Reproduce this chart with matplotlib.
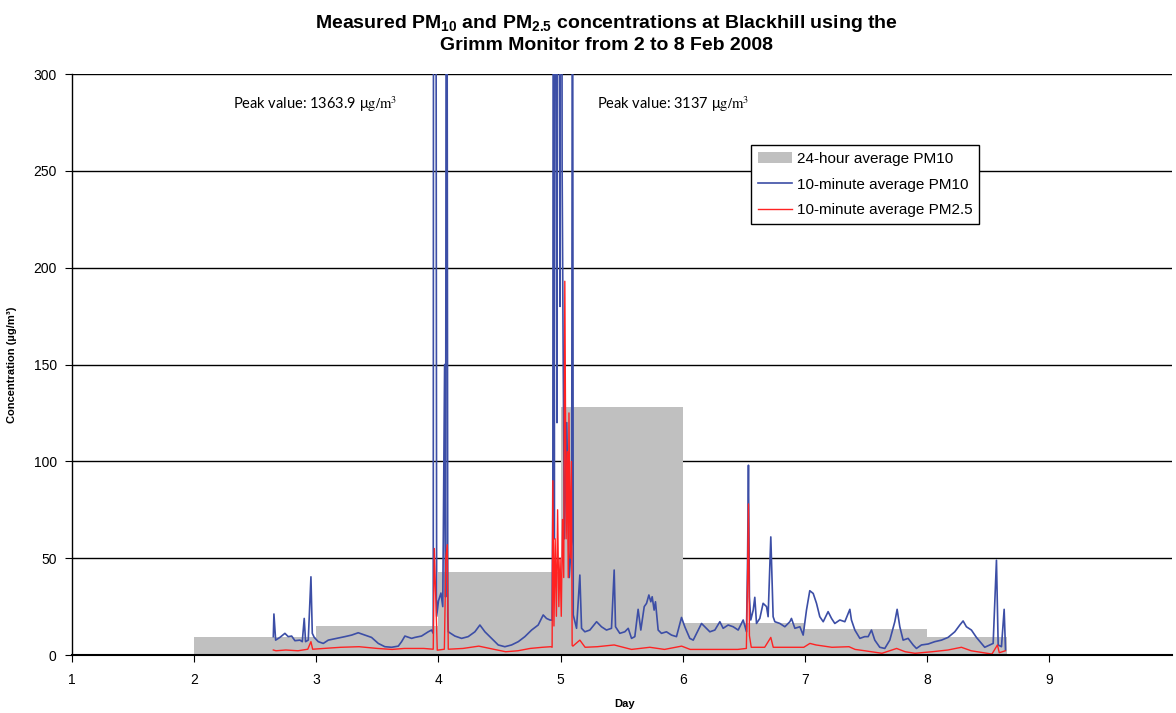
import numpy as np
import matplotlib
matplotlib.use("Agg")
import matplotlib.pyplot as plt
from matplotlib.patches import Patch
from matplotlib.lines import Line2D

plt.rcParams['font.family'] = ['Liberation Sans', 'DejaVu Sans']
plt.rcParams['mathtext.default'] = 'regular'

# 24-hour average PM10 (one value per day)
day_start = [2, 3, 4, 5, 6, 7, 8]
day_end = [3, 4, 5, 6, 7, 8, 8.65]
pm10_24h = [9.5, 15.0, 43.0, 128.0, 16.7, 13.4, 9.3]

# 10-minute average PM10
pm10_day = [2.648, 2.653, 2.667, 2.702, 2.743, 2.770, 2.798, 2.825, 2.866, 2.885,
            2.901, 2.912, 2.934, 2.956, 2.967, 2.983, 3.016, 3.057, 3.098, 3.152,
            3.234, 3.289, 3.343, 3.398, 3.452, 3.507, 3.561, 3.616, 3.671, 3.698,
            3.725, 3.780, 3.807, 3.861, 3.916, 3.943, 3.957,
            3.965, 3.985, 4.000, 4.020, 4.035, 4.050, 4.058, 4.066, 4.076,
            4.080, 4.134, 4.189, 4.243, 4.298, 4.339, 4.380, 4.434, 4.489, 4.543,
            4.598, 4.653, 4.707, 4.762, 4.816, 4.857, 4.884, 4.912, 4.930,
            4.936, 4.942, 4.948, 4.955, 4.962, 4.970, 4.978, 4.985, 4.995, 5.003,
            5.012, 5.020, 5.030, 5.050, 5.070, 5.090, 5.097,
            5.103, 5.130, 5.157, 5.171, 5.198, 5.239, 5.294, 5.334, 5.375, 5.416,
            5.438, 5.449, 5.484, 5.525, 5.553, 5.580, 5.607, 5.634, 5.656, 5.684,
            5.703, 5.722, 5.738, 5.749, 5.765, 5.776, 5.798, 5.825, 5.866, 5.907,
            5.948, 5.989, 6.016, 6.057, 6.085, 6.126, 6.153, 6.180, 6.221, 6.262,
            6.303, 6.330, 6.371, 6.412, 6.453, 6.494, 6.521, 6.530, 6.537, 6.545,
            6.556, 6.576, 6.589, 6.603, 6.630, 6.657, 6.685, 6.698, 6.720, 6.739,
            6.753, 6.794, 6.835, 6.876, 6.889, 6.917, 6.958, 6.985, 7.012, 7.039,
            7.067, 7.094, 7.121, 7.149, 7.189, 7.217, 7.244, 7.285, 7.326, 7.367,
            7.380, 7.408, 7.449, 7.489, 7.517, 7.544, 7.571, 7.612, 7.653, 7.694,
            7.735, 7.754, 7.776, 7.803, 7.844, 7.885, 7.912, 7.953, 8.008, 8.062,
            8.117, 8.171, 8.226, 8.267, 8.294, 8.321, 8.362, 8.403, 8.444, 8.471,
            8.512, 8.540, 8.567, 8.581, 8.608, 8.630, 8.641]
pm10_10min = [9.5, 21.2, 7.7, 9.1, 11.2, 9.5, 9.8, 7.4, 7.7, 6.9,
              18.9, 6.9, 7.7, 40.4, 11.2, 9.1, 6.9, 6.0, 7.7, 8.4,
              9.5, 10.3, 11.5, 10.3, 9.1, 6.0, 4.3, 4.0, 4.6, 6.9,
              9.8, 8.6, 9.1, 9.8, 12.0, 12.9, 11.2,
              1363.9, 20.0, 28.0, 32.0, 25.0, 150.0, 30.0, 600.0, 20.0,
              12.0, 9.8, 8.6, 9.5, 12.0, 15.5, 12.0, 8.6, 5.2, 4.3,
              5.2, 6.9, 9.5, 12.9, 15.5, 20.7, 18.9, 18.1, 18.0,
              90.0, 700.0, 60.0, 3137.0, 300.0, 120.0, 1200.0, 400.0, 180.0, 900.0,
              250.0, 160.0, 60.0, 120.0, 40.0, 60.0, 450.0,
              20.7, 13.8, 41.3, 13.8, 12.0, 12.9, 17.2, 14.6, 12.9, 13.8,
              43.9, 14.6, 11.2, 12.0, 13.8, 8.6, 9.5, 23.6, 12.9, 25.0,
              26.7, 31.0, 27.5, 30.1, 23.2, 27.5, 12.9, 11.2, 12.0, 10.3,
              9.5, 19.4, 14.6, 8.6, 7.7, 12.9, 16.3, 14.6, 12.0, 12.9,
              17.2, 13.8, 15.5, 14.6, 12.9, 18.1, 12.0, 50.0, 98.0, 30.0,
              18.1, 23.2, 29.8, 16.3, 18.9, 26.7, 25.0, 19.8, 61.0, 19.8,
              17.2, 16.3, 14.6, 17.2, 18.9, 13.8, 14.6, 10.3, 23.2, 33.2,
              31.8, 26.7, 19.8, 17.2, 22.4, 18.9, 16.3, 18.1, 17.2, 23.6,
              18.1, 12.9, 8.6, 9.5, 9.5, 12.9, 7.7, 4.0, 3.4, 7.7,
              17.2, 23.6, 14.6, 7.7, 8.6, 5.2, 3.4, 5.2, 5.7, 6.9,
              7.7, 9.1, 12.0, 15.5, 17.6, 14.6, 12.9, 9.1, 6.0, 4.0,
              5.2, 6.0, 49.0, 5.2, 4.3, 23.6, 2.6]

# 10-minute average PM2.5
pm25_day = [2.648, 2.670, 2.750, 2.850, 2.930, 2.956, 2.970, 3.060, 3.200, 3.350,
            3.500, 3.620, 3.720, 3.807, 3.880, 3.957, 3.966, 3.990, 4.048, 4.060,
            4.072, 4.080, 4.200, 4.330, 4.450, 4.550, 4.650, 4.750, 4.850, 4.920,
            4.930, 4.936, 4.945, 4.955, 4.965, 4.975, 4.985, 4.995, 5.005, 5.015,
            5.025, 5.034, 5.045, 5.055, 5.062, 5.068, 5.078, 5.088, 5.094,
            5.100, 5.157, 5.200, 5.300, 5.438, 5.580, 5.730, 5.850, 5.990, 6.060,
            6.260, 6.300, 6.450, 6.520, 6.530, 6.537, 6.545, 6.560, 6.670, 6.720,
            6.740, 6.990, 7.040, 7.090, 7.220, 7.360, 7.410, 7.490, 7.630, 7.750,
            7.820, 7.900, 8.040, 8.170, 8.280, 8.360, 8.530, 8.575, 8.590, 8.640]
pm25_10min = [2.6, 2.2, 2.6, 2.2, 3.0, 6.9, 3.0, 3.4, 4.0, 4.3,
              3.4, 2.9, 3.4, 3.4, 3.4, 3.0, 55.0, 2.5, 3.0, 50.0,
              57.0, 3.0, 3.4, 4.6, 3.0, 1.7, 2.2, 3.4, 4.0, 4.3,
              4.0, 90.0, 15.0, 60.0, 20.0, 75.0, 25.0, 50.0, 20.0, 70.0,
              40.0, 193.0, 60.0, 105.0, 40.0, 125.0, 50.0, 100.0, 5.0,
              4.6, 7.7, 4.0, 4.3, 5.2, 2.9, 4.0, 2.9, 4.6, 2.9,
              2.9, 2.9, 2.9, 3.4, 40.0, 78.0, 10.0, 4.0, 4.0, 9.1,
              4.0, 4.0, 6.0, 5.2, 4.0, 4.3, 2.9, 2.2, 0.9, 3.4,
              1.7, 0.9, 1.7, 2.6, 4.0, 2.2, 0.5, 5.2, 1.2, 2.2]

peak_labels = ["1363.9", "3137"]
peak_label_day = [2.32, 5.30]

fig = plt.figure(figsize=(11.76, 7.13), dpi=100)
ax = fig.add_axes([0.0612, 0.0813, 0.935, 0.8149])

widths = np.array(day_end) - np.array(day_start)
ax.bar(day_start, pm10_24h, width=widths, align='edge', color='#c0c0c0',
       edgecolor='none', zorder=1)
ax.plot(pm10_day, pm10_10min, color='#3c4ea6', lw=1.2, zorder=3)
ax.plot(pm25_day, pm25_10min, color='#ff2222', lw=1.0, zorder=4)

ax.set_xlim(1, 10)
ax.set_ylim(0, 300)
ax.set_xticks(range(1, 10))
ax.set_yticks(range(0, 301, 50))
ax.yaxis.grid(True, color='black', lw=1.0)
ax.set_axisbelow(True)
for s in ['top', 'right']:
    ax.spines[s].set_visible(False)
ax.spines['left'].set_linewidth(1.0)
ax.spines['bottom'].set_linewidth(1.5)
ax.spines['bottom'].set_zorder(5)
ax.tick_params(direction='out', length=5, labelsize=10, colors='black')
ax.tick_params(axis='y', pad=6)
ax.tick_params(axis='x', pad=8)

ax.set_xlabel('Day', fontsize=8, fontweight='bold')
ax.xaxis.set_label_coords(0.503, -0.075)
ax.set_ylabel('Concentration (µg/m³)', fontsize=8, fontweight='bold')
ax.yaxis.set_label_coords(-0.05, 0.5)

for d, lab in zip(peak_label_day, peak_labels):
    ax.text(d, 284.5, 'Peak value: ' + lab + r' $\mu\mathrm{g/m}^\mathrm{3}$',
            fontsize=10.5, family=['Lato', 'DejaVu Sans'], va='center', ha='left',
            math_fontfamily='stix')

handles = [Patch(facecolor='#c0c0c0', edgecolor='none'),
           Line2D([], [], color='#3c4ea6', lw=1.2),
           Line2D([], [], color='#ff2222', lw=1.0)]
labels = ['24-hour average PM10', '10-minute average PM10', '10-minute average PM2.5']
leg = ax.legend(handles, labels, loc='upper left', bbox_to_anchor=(0.618, 0.878),
                fontsize=11, frameon=True, fancybox=False, edgecolor='black',
                framealpha=1, handlelength=2.2, handleheight=0.8, labelspacing=0.75,
                borderpad=0.45, handletextpad=0.3, borderaxespad=0)
leg.get_frame().set_linewidth(1.0)

fig.text(0.516, 0.982,
         'Measured PM$_{10}$ and PM$_{2.5}$ concentrations at Blackhill using the\n'
         'Grimm Monitor from 2 to 8 Feb 2008',
         ha='center', va='top', fontsize=14, fontweight='bold', linespacing=1.22)

fig.savefig('out.png', dpi=100)
